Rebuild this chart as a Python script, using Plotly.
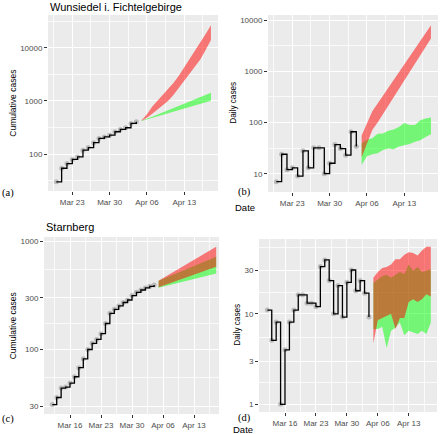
import plotly.graph_objects as go
import pandas as pd

# ---------------- data ----------------
# Wunsiedel i. Fichtelgebirge (observed Mar 20 - Apr 4, forecast Apr 5 - Apr 18)
w_obs_dates = pd.date_range("2020-03-20", periods=16)
w_cum = [30, 54, 66, 79, 88, 118, 132, 163, 196, 210, 226, 262, 290, 312, 376, 405]
w_daily = [7, 24, 12, 13, 9, 28, 13, 32, 32, 10, 16, 37, 31, 23, 66, 34]

fc_dates = pd.date_range("2020-04-05", periods=14)
w_cum_red_lo = [420, 480, 570, 680, 820, 1000, 1300, 1750, 2400, 3300, 4500, 6000, 9000, 14000]
w_cum_red_hi = [430, 560, 780, 1000, 1300, 1650, 2200, 3000, 4300, 6000, 8400, 12500, 18000, 26500]
w_cum_grn_lo = [417, 446, 478, 505, 535, 570, 610, 655, 705, 760, 820, 880, 940, 1006]
w_cum_grn_hi = [425, 458, 503, 553, 607, 667, 733, 805, 885, 972, 1067, 1172, 1288, 1415]

w_day_red_lo = [21, 40, 71, 100, 145, 214, 309, 457, 661, 955, 1410, 2040, 3020, 4370]
w_day_red_hi = [56, 100, 166, 234, 331, 479, 676, 977, 1380, 1950, 2750, 3980, 5620, 7940]
w_day_grn_lo = [15, 22, 24, 25, 29, 31, 30, 34, 36, 38, 42, 45, 52, 59]
w_day_grn_hi = [39, 46, 49, 60, 61, 69, 73, 82, 98, 89, 89, 110, 119, 125]

# Starnberg (observed Mar 12 - Apr 4)
s_obs_dates = pd.date_range("2020-03-12", periods=24)
s_cum = [31, 36, 44, 45, 49, 56, 68, 82, 100, 114, 124, 140, 174, 216, 235, 253,
         272, 287, 315, 338, 355, 371, 384, 395]
s_daily = [11, 5.1, 8.1, 1.0, 4.0, 8.1, 11, 16.2, 16.2, 13.1, 13.1, 12.0, 33.3, 39.4,
           23.3, 10, 20.5, 9.2, 22.3, 30.5, 18, 23.3, 16.9, 9.2]

s_cum_red_lo = [376, 389, 402, 416, 430, 445, 460, 476, 493, 510, 527, 545, 564, 583]
s_cum_red_hi = [433, 458, 484, 512, 541, 572, 605, 640, 676, 715, 756, 799, 845, 893]
s_cum_grn_lo = [372, 381, 390, 399, 408, 418, 428, 438, 448, 458, 469, 480, 492, 505]
s_cum_grn_hi = [433, 450, 468, 487, 506, 526, 547, 568, 591, 614, 639, 664, 691, 720]

s_day_red_lo = [4.7, 8.5, 9.0, 9.5, 10.0, 6.8, 9.0, 9.0, 13.5, 14.5, 13.5, 14.5, 16.5, 15.5]
s_day_red_hi = [25, 29, 32, 33, 35, 40, 40, 45, 48, 47, 44, 50, 55, 55]
s_day_grn_lo = [6.8, 6.8, 7.2, 4.2, 6.5, 7.0, 8.0, 5.8, 6.5, 6.2, 6.0, 6.5, 6.0, 8.0]
s_day_grn_hi = [22, 24, 26, 27, 25, 27, 29, 27.5, 35, 30, 33, 29, 30, 31]

# tick labels
x_ticks_ab = ["2020-03-23", "2020-03-30", "2020-04-06", "2020-04-13"]
x_labels_ab = ["Mar 23", "Mar 30", "Apr 06", "Apr 13"]
x_ticks_cd = ["2020-03-16", "2020-03-23", "2020-03-30", "2020-04-06", "2020-04-13"]
x_labels_cd = ["Mar 16", "Mar 23", "Mar 30", "Apr 06", "Apr 13"]
y_ticks_a = [100, 1000, 10000]
y_ticks_b = [10, 100, 1000, 10000]
y_ticks_c = [30, 100, 300, 1000]
y_ticks_d = [1, 3, 10, 30]

# ---------------- figure ----------------
W, H = 440, 434
RED = "rgba(255,0,0,0.5)"
GRN = "rgba(0,255,0,0.5)"

fig = go.Figure()


def band(xs, lo, hi, color, ax, ay):
    fig.add_trace(go.Scatter(x=list(xs), y=lo, mode="lines", line=dict(width=0, color=color),
                             xaxis=ax, yaxis=ay, showlegend=False, hoverinfo="skip"))
    fig.add_trace(go.Scatter(x=list(xs), y=hi, mode="lines", line=dict(width=0, color=color),
                             fill="tonexty", fillcolor=color,
                             xaxis=ax, yaxis=ay, showlegend=False, hoverinfo="skip"))


def observed(xs, ys, ax, ay):
    fig.add_trace(go.Scatter(x=list(xs), y=ys, mode="markers",
                             marker=dict(size=5, color="rgba(140,140,140,0.5)"),
                             xaxis=ax, yaxis=ay, showlegend=False, hoverinfo="skip"))
    fig.add_trace(go.Scatter(x=list(xs), y=ys, mode="lines", line=dict(shape="hv", color="black", width=1.3),
                             xaxis=ax, yaxis=ay, showlegend=False))


# panel a
band(fc_dates, w_cum_grn_lo, w_cum_grn_hi, GRN, "x", "y")
band(fc_dates, w_cum_red_lo, w_cum_red_hi, RED, "x", "y")
observed(w_obs_dates, w_cum, "x", "y")
# panel b
band(fc_dates, w_day_grn_lo, w_day_grn_hi, GRN, "x2", "y2")
band(fc_dates, w_day_red_lo, w_day_red_hi, RED, "x2", "y2")
observed(w_obs_dates, w_daily, "x2", "y2")
# panel c
band(fc_dates, s_cum_grn_lo, s_cum_grn_hi, GRN, "x3", "y3")
band(fc_dates, s_cum_red_lo, s_cum_red_hi, RED, "x3", "y3")
observed(s_obs_dates, s_cum, "x3", "y3")
# panel d
band(fc_dates, s_day_grn_lo, s_day_grn_hi, GRN, "x4", "y4")
band(fc_dates, s_day_red_lo, s_day_red_hi, RED, "x4", "y4")
observed(s_obs_dates, s_daily, "x4", "y4")


def ts(base, days):
    return (pd.Timestamp(base) + pd.Timedelta(days=days)).strftime("%Y-%m-%d %H:%M:%S")


def mids(ticks):
    t = [pd.Timestamp(v) for v in ticks]
    step = pd.Timedelta(days=3.5)
    out = [t[0] - step] + [a + step for a in t]
    return [v.strftime("%Y-%m-%d %H:%M:%S") for v in out]


GRID = "white"
MINOR = "rgba(255,255,255,0.75)"


def xaxis(dom, rng, tv, tt, anchor):
    return dict(domain=[dom[0] / W, dom[1] / W], range=rng, type="date", anchor=anchor,
                tickmode="array", tickvals=tv, ticktext=tt,
                showgrid=True, gridcolor=GRID, gridwidth=1.1,
                minor=dict(tickmode="array", tickvals=mids(tv), showgrid=True,
                           gridcolor=MINOR, gridwidth=0.5, ticks="", ticklen=0),
                ticks="outside", ticklen=3, tickwidth=1, tickcolor="#333333",
                tickfont=dict(family="Liberation Sans", size=8, color="#4D4D4D"),
                zeroline=False, showline=False, fixedrange=True, automargin=False)


def yaxis(dom, rng, tv, minor_vals, anchor):
    return dict(domain=[1 - dom[1] / H, 1 - dom[0] / H], range=rng, type="log", anchor=anchor,
                tickmode="array", tickvals=tv, ticktext=[str(v) for v in tv],
                showgrid=True, gridcolor=GRID, gridwidth=1.1,
                minor=dict(tickmode="array", tickvals=minor_vals, showgrid=True,
                           gridcolor=MINOR, gridwidth=0.5, ticks="", ticklen=0),
                ticks="outside", ticklen=3, tickwidth=1, tickcolor="#333333",
                tickfont=dict(family="Liberation Sans", size=8, color="#4D4D4D"),
                zeroline=False, showline=False, fixedrange=True, automargin=False)


fig.update_layout(
    width=W, height=H, margin=dict(l=0, r=0, t=0, b=0, autoexpand=False),
    paper_bgcolor="white", plot_bgcolor="#EBEBEB", showlegend=False,
    xaxis=xaxis((48, 218), [ts("2020-03-23", -4.556), ts("2020-03-23", 27.32)], x_ticks_ab, x_labels_ab, "y"),
    xaxis2=xaxis((268, 438), [ts("2020-03-23", -4.556), ts("2020-03-23", 27.32)], x_ticks_ab, x_labels_ab, "y2"),
    xaxis3=xaxis((44, 219), [ts("2020-03-16", -5.87), ts("2020-03-16", 33.64)], x_ticks_cd, x_labels_cd, "y3"),
    xaxis4=xaxis((259, 437), [ts("2020-03-16", -5.885), ts("2020-03-16", 34.4)], x_ticks_cd, x_labels_cd, "y4"),
    yaxis=yaxis((15, 191), [1.304, 4.615], y_ticks_a, [31.62, 316.2, 3162, 31623], "x"),
    yaxis2=yaxis((15, 192), [0.643, 4.098], y_ticks_b, [3.162, 31.62, 316.2, 3162, 31623], "x2"),
    yaxis3=yaxis((237, 414), [1.404, 3.04], y_ticks_c, [54.77, 173.2, 547.7], "x3"),
    yaxis4=yaxis((239, 412), [-0.085, 1.827], y_ticks_d, [1.732, 5.477, 17.32, 54.77], "x4"),
)


def ann(text, px, py, size, family="Liberation Sans", color="black", xanchor="left", angle=0):
    fig.add_annotation(text=text, x=px / W, y=1 - py / H, xref="paper", yref="paper",
                       showarrow=False, xanchor=xanchor, yanchor="middle", textangle=angle,
                       font=dict(family=family, size=size, color=color))


ann("Wunsiedel i. Fichtelgebirge", 48, 7, 11)
ann("Starnberg", 44, 227, 11)
ann("Cumulative cases", 12.7, 103, 8.5, xanchor="center", angle=-90)
ann("Daily cases", 232.7, 103, 8.2, xanchor="center", angle=-90)
ann("Cumulative cases", 13.3, 326, 8.5, xanchor="center", angle=-90)
ann("Daily cases", 236.7, 325, 8.2, xanchor="center", angle=-90)
ann("Date", 233, 208, 9.5)
ann("Date", 231, 429, 9.5)
ann("(a)", 0, 193, 10.5, family="Liberation Serif")
ann("(b)", 236, 192, 10.5, family="Liberation Serif")
ann("(c)", 0, 419, 10.5, family="Liberation Serif")
ann("(d)", 236, 418, 10.5, family="Liberation Serif")

fig.write_html("out.html", config={"displayModeBar": False},
               post_script="document.body.style.margin='0';document.body.style.padding='0';")
